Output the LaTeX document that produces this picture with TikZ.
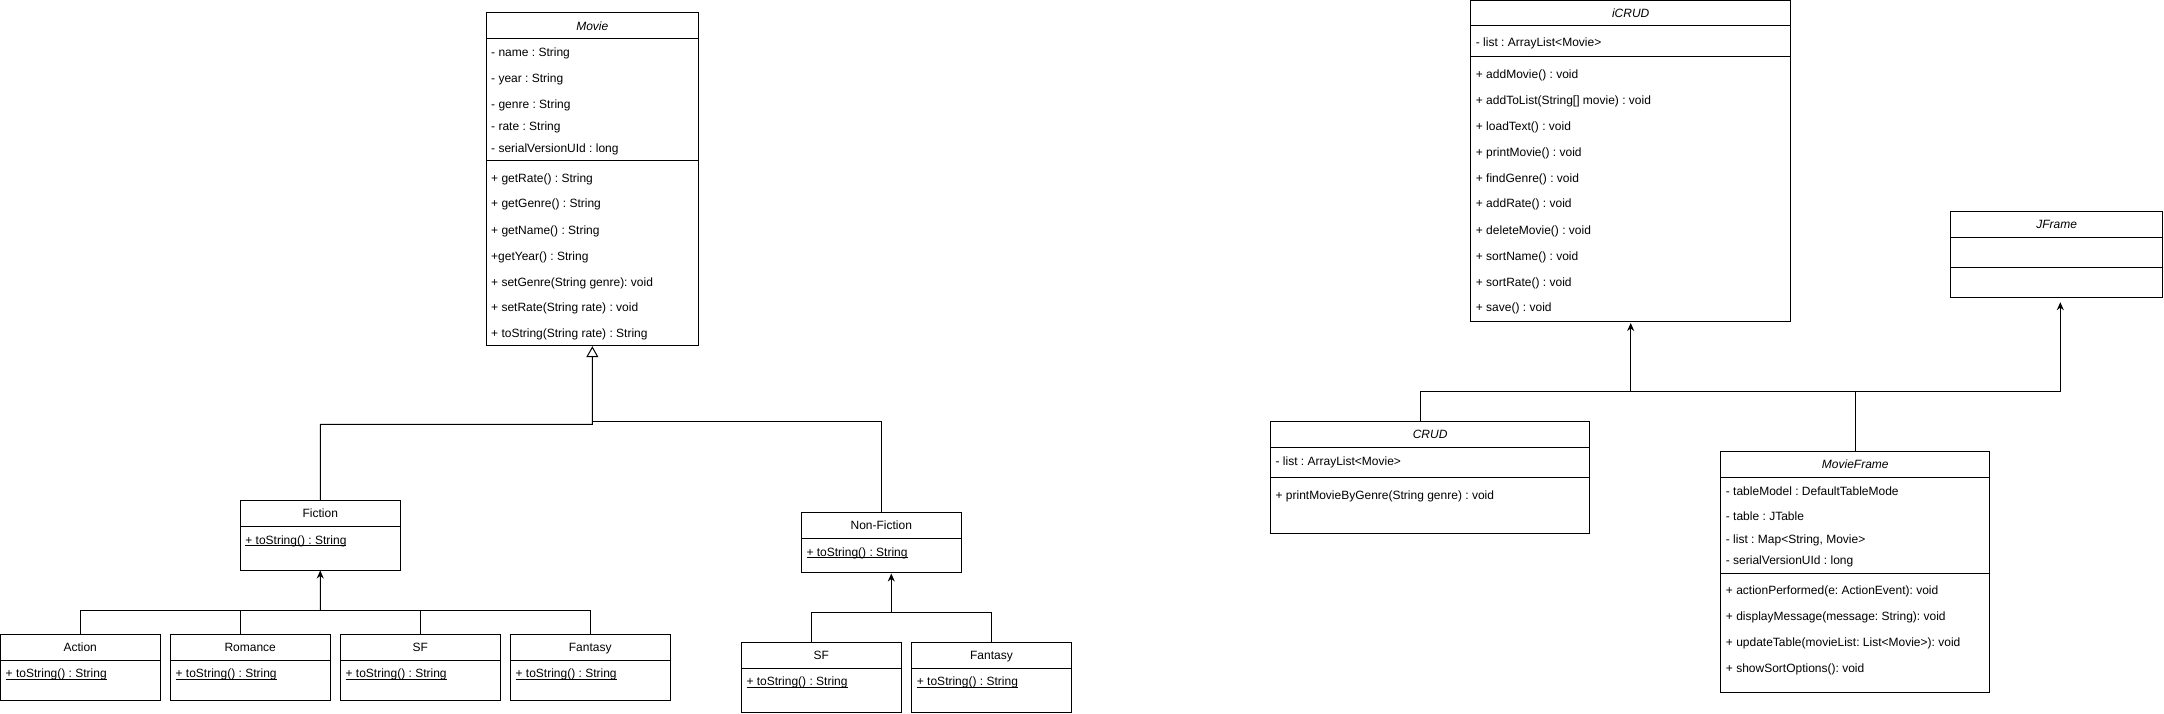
\documentclass[tikz,border=0pt]{standalone}
\usepackage{fontspec}
\setmainfont{Liberation Sans}
\usetikzlibrary{arrows.meta,fit}
\newcommand\undl[1]{\setbox0\hbox{#1}\rlap{\rule[-1.8pt]{\wd0}{0.9pt}}\box0}
\frenchspacing
\begin{document}
\begin{tikzpicture}[x=1pt,y=-1pt,
  box/.style={draw, line width=1pt, inner sep=0pt},
  t/.style={anchor=base west, inner sep=0pt, font=\fontsize{12}{14}\selectfont},
  ti/.style={anchor=base, inner sep=0pt, font=\fontsize{12}{14}\selectfont\itshape},
  tn/.style={anchor=base, inner sep=0pt, font=\fontsize{12}{14}\selectfont},
  ln/.style={line width=1pt},
  inh/.style={line width=1pt, -{Stealth[length=8pt,width=7pt]}},
  gen/.style={line width=1pt, -{Triangle[open,length=11pt,width=12pt]}},
]
\fill[white] (0,0) rectangle (2164,713);
\useasboundingbox (0,0) rectangle (2164,713);

% ---------- Movie ----------
\node[box, fit={(486,12.3) (698.7,345.7)}] (movie) {};
\draw[ln] (486,38) -- (698.7,38);
\draw[ln] (486,160) -- (698.7,160);
\node[ti] (movieT) at (592.3,30) {Movie};
\node[t] (mv1) at (491,56) {- name : String};
\node[t] (mv2) at (491,82) {- year : String};
\node[t] (mv3) at (491,108) {- genre : String};
\node[t] (mv4) at (491,130) {- rate : String};
\node[t] (mv5) at (491,152) {- serialVersionUId : long};
\node[t] (mv6) at (491,182) {+ getRate() : String};
\node[t] (mv7) at (491,207) {+ getGenre() : String};
\node[t] (mv8) at (491,234) {+ getName() : String};
\node[t] (mv9) at (491,260) {+getYear() : String};
\node[t] (mv10) at (491,286) {+ setGenre(String genre): void};
\node[t] (mv11) at (491,311) {+ setRate(String rate) : void};
\node[t] (mv12) at (491,337) {+ toString(String rate) : String};

% ---------- Fiction ----------
\node[box, fit={(240.2,500.3) (400.3,570)}] (fiction) {};
\draw[ln] (240.2,526.3) -- (400.3,526.3);
\node[tn] (fictionT) at (320.3,517.7) {Fiction};
\node[t] (fic1) at (245.2,544) {\undl{+ toString() : String}};

% ---------- Fiction children ----------
\node[box, fit={(0.5,634.3) (160,700)}] (action) {};
\draw[ln] (0.5,660.3) -- (160,660.3);
\node[tn] (actionT) at (80.2,651.3) {Action};
\node[t] (act1) at (5.5,677.7) {\undl{+ toString() : String}};

\node[box, fit={(170.4,634.3) (330,700)}] (romance) {};
\draw[ln] (170.4,660.3) -- (330,660.3);
\node[tn] (romanceT) at (250.2,651.3) {Romance};
\node[t] (rom1) at (175.4,677.7) {\undl{+ toString() : String}};

\node[box, fit={(340.4,634.3) (500,700)}] (sf) {};
\draw[ln] (340.4,660.3) -- (500,660.3);
\node[tn] (sfT) at (420.2,651.3) {SF};
\node[t] (sf1) at (345.4,677.7) {\undl{+ toString() : String}};

\node[box, fit={(510.4,634.3) (670,700)}] (fantasy) {};
\draw[ln] (510.4,660.3) -- (670,660.3);
\node[tn] (fantasyT) at (590.2,651.3) {Fantasy};
\node[t] (fan1) at (515.4,677.7) {\undl{+ toString() : String}};

% ---------- Non-Fiction ----------
\node[box, fit={(801.3,512.3) (961.3,572)}] (nonfiction) {};
\draw[ln] (801.3,538.3) -- (961.3,538.3);
\node[tn] (nonfictionT) at (881.3,529.3) {Non-Fiction};
\node[t] (nf1) at (806.3,556) {\undl{+ toString() : String}};

\node[box, fit={(741.3,642.3) (901.3,712.3)}] (sftwo) {};
\draw[ln] (741.3,668) -- (901.3,668);
\node[tn] (sftwoT) at (821.3,659) {SF};
\node[t] (sft1) at (746.3,685.7) {\undl{+ toString() : String}};

\node[box, fit={(911.7,642.3) (1071.3,712.3)}] (fantasytwo) {};
\draw[ln] (911.7,668) -- (1071.3,668);
\node[tn] (fantasytwoT) at (991.5,659) {Fantasy};
\node[t] (fnt1) at (916.7,685.7) {\undl{+ toString() : String}};

% ---------- iCRUD ----------
\node[box, fit={(1470.7,0.5) (1790.7,321)}] (icrud) {};
\draw[ln] (1470.7,25.7) -- (1790.7,25.7);
\draw[ln] (1470.7,56.7) -- (1790.7,56.7);
\node[ti] (icrudT) at (1630.7,17) {iCRUD};
\node[t] (ic0) at (1475.7,46) {- list : ArrayList<Movie>};
\node[t] (ic1) at (1475.7,78) {+ addMovie() : void};
\node[t] (ic2) at (1475.7,104) {+ addToList(String[] movie) : void};
\node[t] (ic3) at (1475.7,130) {+ loadText() : void};
\node[t] (ic4) at (1475.7,156) {+ printMovie() : void};
\node[t] (ic5) at (1475.7,182) {+ findGenre() : void};
\node[t] (ic6) at (1475.7,207) {+ addRate() : void};
\node[t] (ic7) at (1475.7,234) {+ deleteMovie() : void};
\node[t] (ic8) at (1475.7,260) {+ sortName() : void};
\node[t] (ic9) at (1475.7,286) {+ sortRate() : void};
\node[t] (ic10) at (1475.7,311) {+ save() : void};

% ---------- JFrame ----------
\node[box, fit={(1950.7,211.3) (2162.7,297.3)}] (jframe) {};
\draw[ln] (1950.7,237.3) -- (2162.7,237.3);
\draw[ln] (1950.7,267.3) -- (2162.7,267.3);
\node[ti] (jframeT) at (2056.7,228.7) {JFrame};

% ---------- CRUD ----------
\node[box, fit={(1270.4,421) (1589.8,533)}] (crud) {};
\draw[ln] (1270.4,447.3) -- (1589.8,447.3);
\draw[ln] (1270.4,477.3) -- (1589.8,477.3);
\node[ti] (crudT) at (1430.1,438.7) {CRUD};
\node[t] (cr1) at (1275.4,465) {- list : ArrayList<Movie>};
\node[t] (cr2) at (1275.4,499) {+ printMovieByGenre(String genre) : void};

% ---------- MovieFrame ----------
\node[box, fit={(1720.7,451.3) (1989.9,692)}] (movieframe) {};
\draw[ln] (1720.7,477.3) -- (1989.9,477.3);
\draw[ln] (1720.7,573.3) -- (1989.9,573.3);
\node[ti] (movieframeT) at (1855.3,468.7) {MovieFrame};
\node[t] (mf1) at (1725.7,495) {- tableModel : DefaultTableMode};
\node[t] (mf2) at (1725.7,520.7) {- table : JTable};
\node[t] (mf3) at (1725.7,543) {- list : Map<String, Movie>};
\node[t] (mf4) at (1725.7,564.7) {- serialVersionUId : long};
\node[t] (mf5) at (1725.7,594.7) {+ actionPerformed(e: ActionEvent): void};
\node[t] (mf6) at (1725.7,620.7) {+ displayMessage(message: String): void};
\node[t] (mf7) at (1725.7,646.7) {+ updateTable(movieList: List<Movie>): void};
\node[t] (mf8) at (1725.7,672.7) {+ showSortOptions(): void};

% ---------- connectors ----------
\coordinate (mj) at (592.3,424.3);
\coordinate (mjtwo) at (592.3,421);
\draw[gen] (fiction.north) |- (mj) -- (movie.south);
\draw[ln] (nonfiction.north) |- (mjtwo);

\coordinate (fj) at (320.3,610.3);
\draw[inh] (fj) -- (fiction.south);
\draw[ln] (action.north) |- (fj);
\draw[ln] ([xshift=-10pt]romance.north) |- (fj);
\draw[ln] (sf.north) |- (fj);
\draw[ln] (fantasy.north) |- (fj);

\coordinate (nj) at (891.3,612.3);
\draw[inh, shorten >=1pt] (nj) -- ([xshift=10pt]nonfiction.south);
\draw[ln] ([xshift=-10pt]sftwo.north) |- (nj);
\draw[ln] (fantasytwo.north) |- (nj);

\coordinate (ij) at (1630.7,391.5);
\coordinate (jj) at (2060.3,391.5);
\draw[inh, shorten >=1.5pt] (ij) -- (icrud.south);
\draw[ln] ([xshift=-10pt]crud.north) |- (ij);
\draw[ln] (movieframe.north) |- (ij);
\draw[inh, shorten >=4.4pt] (movieframe.north) |- (jj) -- ([xshift=3.6pt]jframe.south);
\end{tikzpicture}
\end{document}
